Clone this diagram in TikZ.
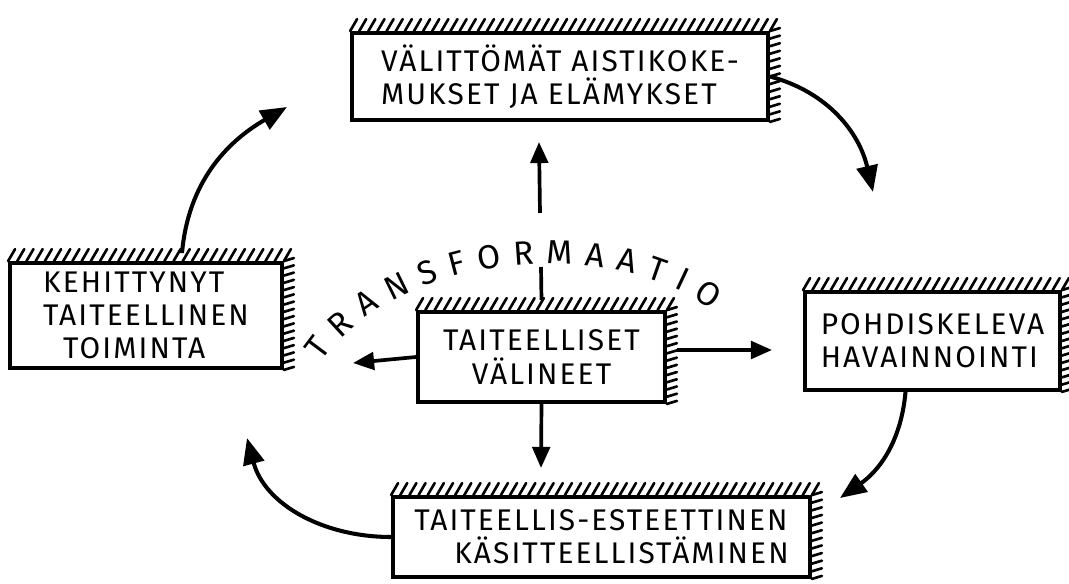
\documentclass[tikz,border=0pt]{standalone}
\usepackage{fontspec}
\setmainfont{Fira Sans}
\newfontfamily\hand[LetterSpace=7]{Fira Sans}
\usetikzlibrary{arrows.meta,calc,decorations.text}
\newcommand\hatchshadow[3]{%
  \foreach \i [evaluate=\i as \f using \i/#2] in {0,...,#2}{%
    \draw[hatchline] ($(#1.north west)!\f!(#1.north east)$) -- ++(7,-12);}
  \foreach \i [evaluate=\i as \f using \i/#3] in {0,...,#3}{%
    \draw[hatchline] ($(#1.north east)!\f!(#1.south east)$) -- ++(10,-3);}
}
\begin{document}
\begin{tikzpicture}[x=0.02cm,y=-0.02cm,
  box/.style={draw,line width=2.2pt,fill=white,inner sep=0pt,align=left,
    font=\hand\fontsize{17}{19}\selectfont},
  hatchline/.style={line width=1.5pt,line cap=round},
  arr/.style={line width=2.1pt,-{Triangle[length=12pt,width=10pt]}},
  cur/.style={line width=2.3pt,-{Triangle[length=15pt,width=12pt]}},
  ln/.style={line width=2.1pt}]
\useasboundingbox (0,0) rectangle (1069,584);

% boxes
\node[box,minimum width=8.32cm,minimum height=1.74cm] (T) at (560,76.5)
  {VÄLITTÖMÄT AISTIKOKE-\\MUKSET JA ELÄMYKSET};
\node[box,minimum width=5.44cm,minimum height=2.1cm] (L) at (146,315.5)
  {KEHITTYNYT\\TAITEELLINEN\\\ \ TOIMINTA};
\node[box,minimum width=4.94cm,minimum height=1.8cm,align=center] (C) at (541.5,357)
  {TAITEELLISET\\VÄLINEET};
\node[box,minimum width=5.1cm,minimum height=1.96cm] (R) at (932.5,341)
  {POHDISKELEVA\\HAVAINNOINTI};
\node[box,minimum width=8.34cm,minimum height=1.6cm] (B) at (601.5,537)
  {TAITEELLIS-ESTEETTINEN\\\ \ \ \ KÄSITTEELLISTÄMINEN};

% hatched shadows
\hatchshadow{T}{46}{12}
\hatchshadow{L}{30}{15}
\hatchshadow{C}{27}{13}
\hatchshadow{R}{28}{14}
\hatchshadow{B}{46}{11}

% free arrow ends
\coordinate (a1) at (873,192);
\coordinate (a2) at (840,498);
\coordinate (a3) at (247,438);
\coordinate (a4) at (287,107);
\coordinate (g1) at (541,267);
\coordinate (g2) at (540,213);
\coordinate (tU) at (539,142);
\coordinate (tL) at (353,363);
\coordinate (tR) at (772,350);
\coordinate (tD) at (541,468);

% cycle arrows
\draw[cur] (T.east) to[out=-15,in=103] (a1);
\draw[cur] ($(R.south)+(-27,0)$) to[out=-95,in=35] (a2);
\draw[cur] (B.west) to[out=180,in=-75] (a3);
\draw[cur] ($(L.north)+(36,-8)$) to[out=85,in=-150] (a4);

% central arrows
\draw[ln] ($(C.north)+(0,-10)$) -- (g1);
\draw[arr] (g2) -- (tU);
\draw[arr] (C.west) -- (tL);
\draw[arr] ($(C.east)+(10,-7)$) -- (tR);
\draw[arr] (C.south) -- (tD);

% curved label
\path[decorate,decoration={text along path,
   text={|\hand\fontsize{19}{22}\selectfont|TRANSFORMAATIO},
   text align={fit to path}}]
  (322,362) .. controls (392,257) and (603,230) .. (712,310);
\end{tikzpicture}
\end{document}
